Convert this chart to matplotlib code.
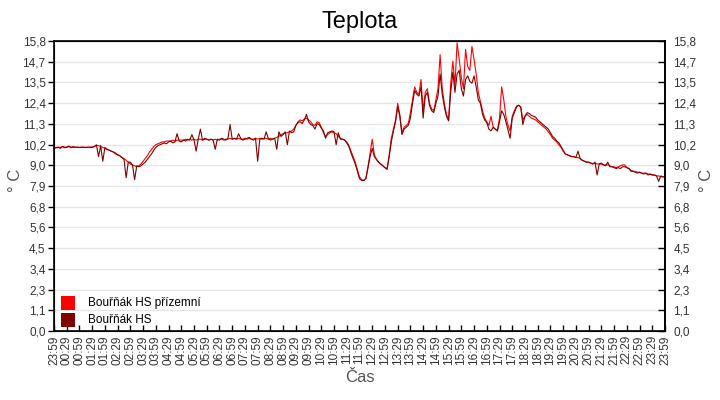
import matplotlib
matplotlib.use("Agg")
import matplotlib.pyplot as plt
from matplotlib.patches import Rectangle
import numpy as np

plt.rcParams["font.family"] = ["Liberation Sans", "DejaVu Sans"]

# minutes since 23:59, one value every 5 minutes (one row = one hour)
HS = [
    9.95, 9.98, 10.0, 9.95, 10.05, 9.98, 10.02, 10.08, 9.98, 10.05, 10.0, 10.02,
    10.0, 10.02, 10.0, 10.0, 10.02, 10.0, 10.02, 10.05, 10.14, 9.5, 10.1, 9.25,
    10.0, 9.9, 9.85, 9.8, 9.75, 9.65, 9.6, 9.55, 9.45, 9.35, 8.35, 9.2,
    9.2, 9.05, 8.25, 9.0, 8.95, 9.0, 9.1, 9.2, 9.35, 9.5, 9.65, 9.85,
    10.0, 10.1, 10.15, 10.2, 10.25, 10.2, 10.3, 10.35, 10.25, 10.3, 10.75, 10.35,
    10.3, 10.4, 10.35, 10.45, 10.4, 10.7, 10.4, 9.8, 10.45, 11.0, 10.4, 10.5,
    10.45, 10.4, 10.45, 10.4, 9.9, 10.45, 10.4, 10.5, 10.45, 10.4, 10.5, 11.25,
    10.45, 10.5, 10.45, 10.75, 10.5, 10.4, 10.45, 10.5, 10.55, 10.45, 10.4, 10.5,
    9.25, 10.45, 10.5, 10.45, 10.85, 10.5, 10.4, 10.45, 10.5, 9.9, 10.85, 10.6,
    10.7, 10.85, 10.15, 10.9, 10.8, 10.85, 11.2, 11.35, 11.4, 11.3, 11.5, 11.8,
    11.4, 11.25, 11.2, 11.0, 11.3, 11.25, 11.05, 10.9, 10.5, 10.8, 10.85, 10.9,
    10.85, 10.15, 10.8, 10.45, 10.45, 10.4, 10.25, 10.05, 9.7, 9.4, 9.1, 8.7,
    8.3, 8.2, 8.2, 8.3, 8.9, 9.5, 9.95, 9.5, 9.35, 9.2, 9.1, 9.0,
    8.9, 8.8, 9.5, 10.3, 10.9, 11.4, 12.2, 11.7, 10.7, 11.0, 11.1, 11.2,
    11.6, 12.4, 13.1, 12.9, 12.8, 13.3, 11.6, 12.8, 13.0, 12.3, 12.0, 11.9,
    12.4, 12.8, 14.0, 12.9, 12.2, 11.7, 11.45, 13.0, 14.1, 13.0, 14.0, 14.2,
    13.2, 12.8, 13.7, 13.9, 13.6, 13.5, 13.9, 13.3, 12.6, 12.4, 11.8, 11.5,
    11.35, 11.0, 10.9, 11.1, 11.0, 10.9, 11.4, 12.0, 11.8, 11.4, 10.95, 10.5,
    11.6, 11.9, 12.2, 12.3, 12.2, 11.25, 11.7, 11.9, 11.85, 11.75, 11.7, 11.65,
    11.5, 11.4, 11.3, 11.2, 11.1, 11.0, 10.8, 10.6, 10.5, 10.35, 10.25, 10.05,
    9.85, 9.65, 9.6, 9.55, 9.5, 9.5, 9.45, 9.8, 9.4, 9.3, 9.25, 9.2,
    9.2, 9.15, 9.1, 9.2, 8.5, 9.1, 9.15, 9.05, 9.0, 9.2, 8.95, 8.95,
    8.9, 8.85, 8.9, 8.85, 8.95, 8.95, 8.9, 8.85, 8.7, 8.7, 8.65, 8.6,
    8.65, 8.6, 8.55, 8.6, 8.5, 8.55, 8.5, 8.5, 8.45, 8.15, 8.45, 8.4,
    8.4,
]

HS_PRIZEMNI = [
    10.0, 10.0, 10.02, 10.0, 10.05, 10.02, 10.0, 10.05, 10.02, 10.0, 10.02, 10.0,
    10.0, 10.0, 10.02, 10.0, 10.0, 10.02, 10.0, 10.05, 10.12, 10.1, 10.05, 10.0,
    9.95, 9.9, 9.85, 9.8, 9.75, 9.7, 9.6, 9.55, 9.45, 9.4, 9.3, 9.2,
    9.1, 9.05, 9.0, 8.95, 9.0, 9.1, 9.25, 9.4, 9.55, 9.75, 9.9, 10.05,
    10.15, 10.2, 10.25, 10.3, 10.3, 10.35, 10.35, 10.35, 10.4, 10.35, 10.4, 10.4,
    10.4, 10.4, 10.45, 10.4, 10.45, 10.4, 10.45, 10.4, 10.45, 10.45, 10.4, 10.45,
    10.45, 10.4, 10.45, 10.4, 10.45, 10.4, 10.45, 10.45, 10.4, 10.45, 10.45, 10.5,
    10.45, 10.5, 10.45, 10.5, 10.45, 10.45, 10.5, 10.45, 10.5, 10.45, 10.45, 10.5,
    10.45, 10.5, 10.45, 10.5, 10.5, 10.45, 10.5, 10.45, 10.5, 10.55, 10.6, 10.7,
    10.75, 10.8, 10.8, 10.85, 10.9, 11.0, 11.2, 11.4, 11.5, 11.45, 11.55, 11.6,
    11.5, 11.4, 11.25, 11.2, 11.4, 11.35, 11.1, 10.8, 10.6, 10.7, 10.8, 10.85,
    10.8, 10.75, 10.6, 10.5, 10.45, 10.4, 10.3, 10.1, 9.8, 9.5, 9.2, 8.8,
    8.4, 8.25, 8.2, 8.3, 8.95, 9.7, 10.45, 9.6, 9.35, 9.2, 9.1, 9.0,
    8.9, 8.85, 9.6, 10.5, 11.0, 11.5, 12.4, 11.8, 10.8, 11.1, 11.2, 11.3,
    11.9, 12.6, 13.3, 13.0, 12.9, 13.7, 12.0, 13.0, 13.2, 12.4, 12.1, 12.0,
    12.6, 13.2, 15.05, 13.2, 12.4, 11.8, 11.5, 13.5, 14.7, 13.4, 15.7, 14.8,
    13.8, 13.2, 15.35, 14.4, 14.2, 15.5, 14.8, 14.0, 13.0, 12.5, 12.0, 11.6,
    11.4, 11.2, 11.7, 11.1, 11.0, 10.9, 11.6, 13.3, 12.6, 11.7, 11.2, 10.9,
    11.7, 12.0, 12.25, 12.3, 12.2, 11.5, 11.7, 11.8, 11.7, 11.6, 11.55, 11.5,
    11.4, 11.3, 11.2, 11.1, 11.0, 10.85, 10.7, 10.5, 10.4, 10.3, 10.15, 10.0,
    9.8, 9.65, 9.6, 9.55, 9.5, 9.5, 9.45, 9.45, 9.4, 9.3, 9.25, 9.2,
    9.2, 9.15, 9.1, 9.15, 9.1, 9.1, 9.1, 9.05, 9.05, 9.05, 9.0, 8.95,
    8.95, 8.9, 8.95, 9.0, 9.05, 9.05, 8.9, 8.85, 8.75, 8.7, 8.7, 8.65,
    8.65, 8.6, 8.6, 8.6, 8.55, 8.55, 8.5, 8.5, 8.45, 8.45, 8.4, 8.4,
    8.4,
]

SERIES = ["Bouřňák HS přízemní", "Bouřňák HS"]
COLORS = ["#ff0000", "#800000"]

Y_MAX = 15.8
Y_TICKS = np.linspace(0, Y_MAX, 15)
X_TICK_LABELS = ["23:59"] + [f"{h:02d}:{m}" for h in range(24) for m in ("29", "59")]
X_TICKS = np.arange(0, 1441, 30)

t = np.arange(len(HS)) * 5

fig = plt.figure(figsize=(7.2, 4.0), dpi=100)
ax = fig.add_axes([0.075, 0.1725, 0.8486, 0.725])

ax.plot(t, HS_PRIZEMNI, color=COLORS[0], lw=0.8, zorder=3)
ax.plot(t, HS, color=COLORS[1], lw=0.8, zorder=4)

ax.set_xlim(0, 1440)
ax.set_ylim(0, Y_MAX)
ylabels = [f"{v:.1f}".replace(".", ",") for v in Y_TICKS]
ax.set_yticks(Y_TICKS)
ax.set_yticklabels(ylabels, fontsize=8.5, color="#333333")
ax.set_xticks(X_TICKS)
ax.set_xticklabels(X_TICK_LABELS, rotation=90, fontsize=8.5, color="#333333")
ax.tick_params(axis="y", direction="out", length=4, width=1, pad=2)
ax.tick_params(axis="x", direction="in", length=4, width=1, pad=3)
ax.grid(axis="y", color="#e6e6e6", lw=1)
ax.set_axisbelow(True)
for s in ax.spines.values():
    s.set_color("black")
    s.set_linewidth(1.2)

ax2 = ax.twinx()
ax2.set_ylim(0, Y_MAX)
ax2.set_yticks(Y_TICKS)
ax2.set_yticklabels(ylabels, fontsize=8.5, color="#333333")
ax2.tick_params(axis="y", direction="in", length=5, width=1, pad=6)
ax2.spines["right"].set_linewidth(1.2)

fig.text(0.021, 0.55, "° C", rotation=90, ha="center", va="center", fontsize=12, color="#555555")
fig.text(0.981, 0.55, "° C", rotation=90, ha="center", va="center", fontsize=12, color="#555555")
ax.set_xlabel("Čas", fontsize=12, color="#555555", labelpad=4)
fig.text(0.5, 0.945, "Teplota", ha="center", va="center", fontsize=17)

# legend: coloured squares + names, lower left inside the plot
for i, (name, col) in enumerate(zip(SERIES, COLORS)):
    y0 = 0.072 - i * 0.0585
    ax.add_patch(Rectangle((0.0115, y0), 0.0229, 0.0483, transform=ax.transAxes,
                           facecolor=col, edgecolor="none", zorder=6))
    ax.text(0.0556, y0 + 0.024, name, transform=ax.transAxes, color="black",
            fontsize=8.5, va="center", ha="left", zorder=6)

fig.savefig("out.png", dpi=100)
